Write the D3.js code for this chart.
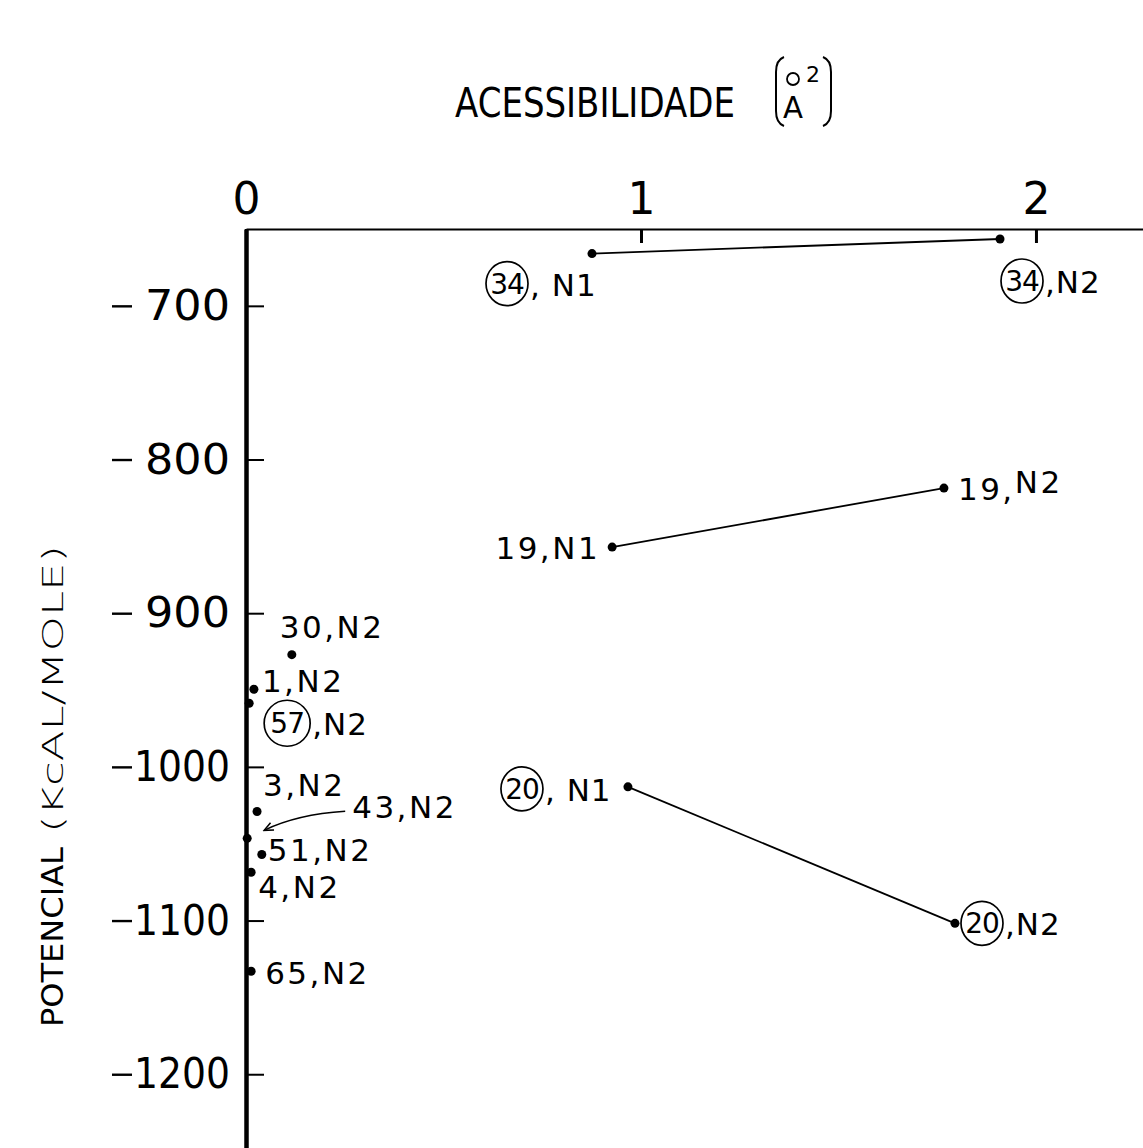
<!DOCTYPE html>
<html>
<head>
<meta charset="utf-8">
<script src="https://cdn.jsdelivr.net/npm/d3@7"></script>
<style>
  body { margin: 0; background: #fff; }
  svg { display: block; background: #fff; }
  text { font-family: "DejaVu Sans", sans-serif; fill: #000; }
</style>
</head>
<body>
<svg id="chart" width="1143" height="1148"></svg>
<script>
// valores
const pairIds = ["34", "19", "20"];
const accessN1 = [0.876, 0.927, 0.967];
const potentialN1 = [-666, -857, -1013];
const accessN2 = [1.909, 1.767, 1.795];
const potentialN2 = [-656.5, -818.6, -1101.8];

const clusterIds = ["30", "1", "57", "3", "43", "51", "4", "65"];
const clusterAccess = [0.116, 0.02, 0.008, 0.028, 0.003, 0.04, 0.013, 0.013];
const clusterPotential = [-927, -949.5, -958.6, -1029, -1046.5, -1057, -1068.6, -1133];

const circledIds = ["34", "20", "57"];
const xTicks = [0, 1, 2];
const yTicks = [-700, -800, -900, -1000, -1100, -1200];
const xTitle = "ACESSIBILIDADE";
const yTitle = ["POTENCIAL", "(KcAL/MOLE)"];

(function () {
  let width = 1143,
    height = 1148;
  let svg = d3.select("#chart");

  let x = d3.scaleLinear().domain([0, 2.271]).range([246, width]);
  let y = d3.scaleLinear().domain([-650, -1248]).range([229, height]);

  // pontos (N1 / N2)
  let points = [];
  pairIds.forEach(function (id, i) {
    points.push({ id: id, atom: "N1", x: accessN1[i], y: potentialN1[i] });
    points.push({ id: id, atom: "N2", x: accessN2[i], y: potentialN2[i] });
  });
  clusterIds.forEach(function (id, i) {
    points.push({ id: id, atom: "N2", x: clusterAccess[i], y: clusterPotential[i] });
  });

  // texto comprimido na horizontal (fonte estreita)
  function squeeze(sel, tx, ty, w, rotate) {
    let len = sel.node().getComputedTextLength();
    sel.attr("transform", `translate(${tx}, ${ty})` + (rotate ? " rotate(-90)" : "") + ` scale(${w / len}, 1)`);
    return sel;
  }

  // eixo x (em cima)
  let xAxis = d3.axisTop(x)
    .tickValues(xTicks)
    .tickFormat(d3.format("d"))
    .tickSizeInner(-14)
    .tickSizeOuter(0)
    .tickPadding(15);

  let gx = svg.append("g")
    .attr("transform", `translate(0, ${y.range()[0]})`)
    .call(xAxis);
  gx.select(".domain").attr("stroke-width", 2.2);
  gx.selectAll(".tick line").attr("stroke-width", 3);
  gx.selectAll(".tick text")
    .style("font-size", "44px")
    .style("font-family", "DejaVu Sans");

  // eixo y (esquerda)
  let yAxis = d3.axisLeft(y)
    .tickValues(yTicks)
    .tickFormat(function (d) { return Math.abs(d); })
    .tickSizeInner(-18)
    .tickSizeOuter(0)
    .tickPadding(16);

  let gy = svg.append("g")
    .attr("transform", `translate(${x.range()[0]}, 0)`)
    .call(yAxis);
  gy.select(".domain").attr("stroke-width", 4.5);
  gy.selectAll(".tick line").attr("stroke-width", 2);
  gy.selectAll(".tick text")
    .style("font-size", "43px")
    .style("font-family", "DejaVu Sans")
    .attr("textLength", function (d) { return Math.abs(d) >= 1000 ? 96 : 85; })
    .attr("lengthAdjust", "spacingAndGlyphs");
  // sinal de menos separado
  gy.selectAll(".tick").append("line")
    .attr("x1", -134)
    .attr("x2", -114)
    .attr("stroke", "#000")
    .attr("stroke-width", 2.4);

  // linhas N1 -> N2
  svg.append("g")
    .selectAll("line")
    .data(pairIds)
    .enter()
    .append("line")
    .attr("x1", function (d, i) { return x(accessN1[i]); })
    .attr("y1", function (d, i) { return y(potentialN1[i]); })
    .attr("x2", function (d, i) { return x(accessN2[i]); })
    .attr("y2", function (d, i) { return y(potentialN2[i]); })
    .attr("stroke", "#000")
    .attr("stroke-width", 1.8);

  svg.append("g")
    .selectAll("circle")
    .data(points)
    .enter()
    .append("circle")
    .attr("cx", function (d) { return x(d.x); })
    .attr("cy", function (d) { return y(d.y); })
    .attr("r", 4.5)
    .attr("fill", "#000");

  // posicao dos rotulos em relacao ao ponto
  let place = {
    "34,N1": { dx: -85, dy: 30, sep: ", " },
    "34,N2": { dx: 22, dy: 42, sep: "," },
    "20,N1": { dx: -106, dy: 2, sep: ", " },
    "20,N2": { dx: 27, dy: 0, sep: "," },
    "57,N2": { dx: 38, dy: 20, sep: "," },
    "19,N1": { dx: -12, dy: 12, anchor: "end" },
    "19,N2": { dx: 14, dy: 12, raise: true },
    "30,N2": { dx: -12, dy: -17 },
    "1,N2": { dx: 8, dy: 3 },
    "3,N2": { dx: 6, dy: -15 },
    "43,N2": { dx: 105, dy: -20, arrow: true },
    "51,N2": { dx: 6, dy: 7 },
    "4,N2": { dx: 7, dy: 26 },
    "65,N2": { dx: 14, dy: 13 }
  };

  svg.append("defs").append("marker")
    .attr("id", "head")
    .attr("viewBox", "-10 -6 12 12")
    .attr("markerWidth", 12)
    .attr("markerHeight", 12)
    .attr("markerUnits", "userSpaceOnUse")
    .attr("orient", "auto")
    .append("path")
    .attr("d", "M-9,-4L0,0L-9,4")
    .attr("fill", "none")
    .attr("stroke", "#000")
    .attr("stroke-width", 1.6);

  let labels = svg.append("g");
  points.forEach(function (d) {
    let p = place[d.id + "," + d.atom];
    let px = x(d.x) + p.dx,
      py = y(d.y) + p.dy;

    if (circledIds.indexOf(d.id) >= 0) {
      let rx = d.id === "57" ? 23 : 21,
        ry = d.id === "57" ? 23 : 22;
      let g = labels.append("g").attr("transform", `translate(${px}, ${py})`);
      g.append("ellipse")
        .attr("rx", rx)
        .attr("ry", ry)
        .attr("fill", "none")
        .attr("stroke", "#000")
        .attr("stroke-width", 1.7);
      g.append("text")
        .attr("text-anchor", "middle")
        .attr("dy", "0.36em")
        .style("font-size", "28px")
        .style("letter-spacing", "-1px")
        .text(d.id);
      g.append("text")
        .attr("x", rx + 2)
        .attr("y", 12)
        .style("font-size", "31px")
        .style("letter-spacing", "1px")
        .style("white-space", "pre")
        .text(p.sep + d.atom);
      return;
    }

    let t = labels.append("text")
      .attr("x", px)
      .attr("y", py)
      .attr("text-anchor", p.anchor || "start")
      .style("font-size", "31px")
      .style("letter-spacing", "2.5px");
    if (p.raise) {
      t.append("tspan").text(d.id + ",");
      t.append("tspan").attr("dy", -7).text(d.atom);
    } else {
      t.text(d.id + "," + d.atom);
    }

    if (p.arrow) {
      let cx = x(d.x),
        cy = y(d.y);
      labels.append("path")
        .attr("d", `M${cx + 98},${cy - 27}Q${cx + 50},${cy - 24} ${cx + 17},${cy - 8}`)
        .attr("fill", "none")
        .attr("stroke", "#000")
        .attr("stroke-width", 1.5)
        .attr("marker-end", "url(#head)");
    }
  });

  // titulo do eixo x
  let title = svg.append("g");
  squeeze(title.append("text")
    .style("font-size", "41px")
    .text(xTitle), 455, 117, 280);
  title.append("path")
    .attr("d", "M784,57Q776,60 776,72L776,111Q776,123 784,126")
    .attr("fill", "none").attr("stroke", "#000").attr("stroke-width", 2);
  title.append("path")
    .attr("d", "M823,57Q831,60 831,72L831,111Q831,123 823,126")
    .attr("fill", "none").attr("stroke", "#000").attr("stroke-width", 2);
  title.append("circle")
    .attr("cx", 793).attr("cy", 79).attr("r", 6)
    .attr("fill", "none").attr("stroke", "#000").attr("stroke-width", 1.8);
  title.append("text")
    .attr("x", 806).attr("y", 82)
    .style("font-size", "22px")
    .text("2");
  squeeze(title.append("text")
    .style("font-size", "30px")
    .text("A"), 783, 118, 20);

  // titulo do eixo y
  squeeze(svg.append("text")
    .style("font-size", "31px")
    .text(yTitle[0]), 63, 1027, 180, true);
  squeeze(svg.append("text")
    .style("font-size", "29px")
    .style("font-weight", 300)
    .text(yTitle[1]), 63, 833, 288, true);
})();
</script>
</body>
</html>
